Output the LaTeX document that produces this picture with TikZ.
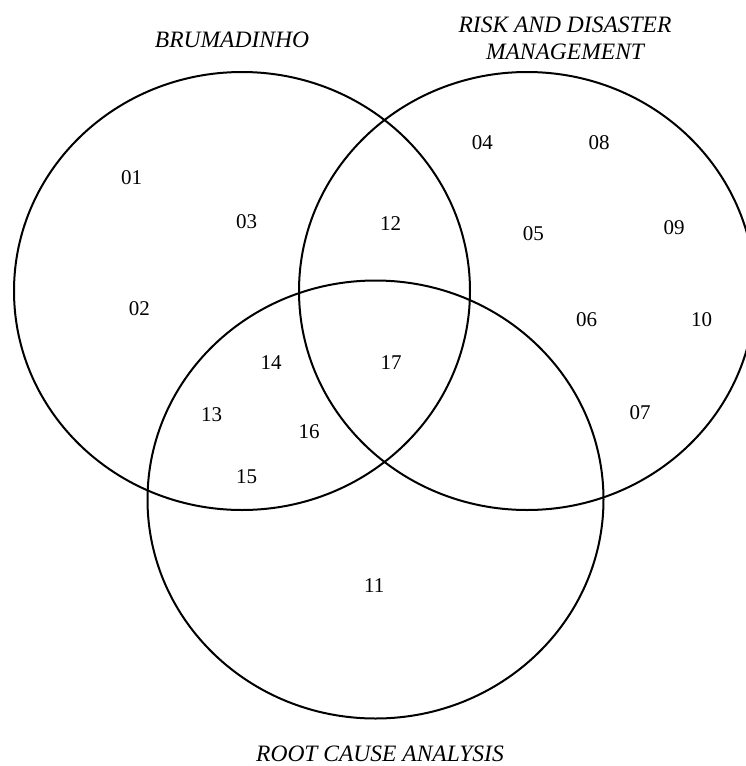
\documentclass[tikz,border=0pt]{standalone}
\usepackage{fontspec}
\setmainfont{Liberation Serif}
\begin{document}
\begin{tikzpicture}[x=1pt,y=-1pt,
  setring/.style={draw=black, line width=2pt},
  item/.style={font=\fontsize{21}{24}\selectfont, inner sep=0pt, anchor=center},
  settitle/.style={font=\fontsize{23.5}{27}\selectfont\itshape, inner sep=0pt, align=center, anchor=center}]
  \useasboundingbox (0,0) rectangle (746,766);

  % the three sets
  \draw[setring] (242,291) ellipse [x radius=228, y radius=219];
  \draw[setring] (527,291) ellipse [x radius=228, y radius=219];
  \draw[setring] (375.5,499.5) ellipse [x radius=228, y radius=219];

  % set titles
  \node[settitle] (tBru) at (232,40) {BRUMADINHO};
  \node[settitle] (tRisk) at (565,38.5) {RISK AND DISASTER\\MANAGEMENT};
  \node[settitle] (tRoot) at (380,753.5) {ROOT CAUSE ANALYSIS};

  % studies placed in the regions
  \node[item] (n01) at (131.7,177.3) {01};
  \node[item] (n02) at (139.3,309) {02};
  \node[item] (n03) at (246.7,221.7) {03};
  \node[item] (n04) at (482.3,142.3) {04};
  \node[item] (n05) at (533.3,234) {05};
  \node[item] (n06) at (586.7,320) {06};
  \node[item] (n07) at (640,412.7) {07};
  \node[item] (n08) at (599,142.3) {08};
  \node[item] (n09) at (674,227.7) {09};
  \node[item] (n10) at (701.7,320) {10};
  \node[item] (n11) at (374.3,586) {11};
  \node[item] (n12) at (390.7,224) {12};
  \node[item] (n13) at (211.7,415) {13};
  \node[item] (n14) at (271,362.7) {14};
  \node[item] (n15) at (246.7,476.7) {15};
  \node[item] (n16) at (309,431.7) {16};
  \node[item] (n17) at (391,362.7) {17};
\end{tikzpicture}
\end{document}
